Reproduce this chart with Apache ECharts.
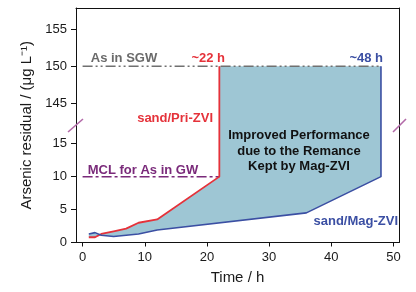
<!DOCTYPE html>
<html>
<head>
<meta charset="utf-8">
<script src="https://cdn.jsdelivr.net/npm/echarts@6/dist/echarts.min.js"></script>
<style>
  html, body { margin: 0; padding: 0; background: #fff; }
  #chart { width: 416px; height: 292px; }
</style>
</head>
<body>
<div id="chart"></div>
<script>
// data (time in h, arsenic in ug/L)
const priTime = [1, 2, 3, 5, 7, 9, 12, 22, 22];
const priValue = [0.8, 0.8, 1.3, 1.7, 2.1, 3.0, 3.5, 10, 150];
const magTime = [1, 2, 3, 5, 9, 12, 36, 48, 48];
const magValue = [1.3, 1.5, 1.1, 0.9, 1.3, 1.9, 4.5, 10, 150];
const sgwTime = [0, 48];
const sgwValue = [150, 150];
const mclTime = [0, 22];
const mclValue = [10, 10];
const xTicks = [0, 10, 20, 30, 40, 50];
const yTicks = [0, 5, 10, 15, 145, 150, 155];

// broken y axis: 0..15 kept as is, 145..155 shifted down and stretched a bit
const f = v => (v <= 16 ? v : 21.18 + (v - 145) * 1.114);
const yTickPos = yTicks.map(f);

const pairs = (xs, ys) => xs.map((x, i) => [x, f(ys[i])]);

const myChart = echarts.init(document.getElementById('chart'));

const font = 'Liberation Sans, Arial';
const tickFont = { fontFamily: font, fontSize: 13, color: '#1a1a1a' };
const xMin = -1.06, xMax = 50.9, yMax = 35.6;

// plain axis used only to close the box on top and right
const boxAxis = (pos, max, min) => ({
  type: 'value', position: pos, min: min, max: max,
  axisLine: { show: true, onZero: false, lineStyle: { color: '#111' } },
  axisTick: { show: false }, axisLabel: { show: false }, splitLine: { show: false }
});

const options = {
  animation: false,
  grid: { left: 76, right: 17, top: 8, bottom: 49.5 },
  xAxis: [
    {
      type: 'value',
      min: xMin,
      max: xMax,
      name: 'Time / h',
      nameLocation: 'middle',
      nameGap: 28,
      nameTextStyle: { fontFamily: font, fontSize: 15, color: '#1a1a1a' },
      axisLine: { onZero: false, lineStyle: { color: '#111', width: 1 } },
      axisTick: { show: true, customValues: xTicks, length: 4, lineStyle: { color: '#111' } },
      axisLabel: { customValues: xTicks, margin: 8, ...tickFont },
      splitLine: { show: false }
    },
    boxAxis('top', xMax, xMin)
  ],
  yAxis: [
    {
      type: 'value',
      min: 0,
      max: yMax,
      name: 'Arsenic residual / (μg L⁻¹)',
      nameLocation: 'middle',
      nameGap: 37,
      nameTextStyle: { fontFamily: font, fontSize: 15, color: '#1a1a1a' },
      axisLine: { show: true, onZero: false, lineStyle: { color: '#111', width: 1 } },
      axisTick: { show: true, customValues: yTickPos, length: 5, lineStyle: { color: '#111', width: 1 } },
      axisLabel: {
        customValues: yTickPos,
        margin: 9,
        ...tickFont,
        formatter: v => {
          const i = yTickPos.findIndex(p => Math.abs(p - v) < 0.01);
          return i >= 0 ? String(yTicks[i]) : '';
        }
      },
      splitLine: { show: false }
    },
    boxAxis('right', yMax, 0)
  ],
  series: [
    {
      // shaded region between the two curves
      type: 'custom',
      z: 1,
      silent: true,
      data: [0],
      renderItem: (params, api) => {
        const top = pairs(priTime, priValue).map(p => api.coord(p));
        const bottom = pairs(magTime, magValue).map(p => api.coord(p)).reverse();
        return {
          type: 'polygon',
          shape: { points: top.concat(bottom) },
          style: { fill: '#9ec6d4', stroke: null }
        };
      }
    },
    {
      name: 'As in SGW',
      type: 'line',
      z: 3,
      symbol: 'none',
      data: pairs(sgwTime, sgwValue),
      lineStyle: { color: '#707070', width: 1.5, type: [10, 3, 2, 3, 2, 3] }
    },
    {
      name: 'MCL for As in GW',
      type: 'line',
      z: 3,
      symbol: 'none',
      data: pairs(mclTime, mclValue),
      lineStyle: { color: '#7a2a7a', width: 1.5, type: [10, 3, 3, 3] }
    },
    {
      name: 'sand/Pri-ZVI',
      type: 'line',
      z: 4,
      symbol: 'none',
      data: pairs(priTime, priValue),
      lineStyle: { color: '#e5323a', width: 1.8 }
    },
    {
      name: 'sand/Mag-ZVI',
      type: 'line',
      z: 4,
      symbol: 'none',
      data: pairs(magTime, magValue),
      lineStyle: { color: '#3b4fa3', width: 1.6 }
    }
  ],
  graphic: [
    // axis break marks
    { type: 'line', shape: { x1: 68, y1: 132, x2: 83, y2: 119 }, style: { stroke: '#b36aa8', lineWidth: 1.6 }, z: 100 },
    { type: 'line', shape: { x1: 393, y1: 132, x2: 406, y2: 119 }, style: { stroke: '#b36aa8', lineWidth: 1.6 }, z: 100 },
    // annotations
    { type: 'text', x: 124, y: 58, style: { text: 'As in SGW', fill: '#6a6a6a', font: 'bold 13px ' + font, align: 'center', verticalAlign: 'middle' }, z: 10 },
    { type: 'text', x: 225, y: 58, style: { text: '~22 h', fill: '#e5323a', font: 'bold 13px ' + font, align: 'right', verticalAlign: 'middle' }, z: 10 },
    { type: 'text', x: 383, y: 58, style: { text: '~48 h', fill: '#3b4fa3', font: 'bold 13px ' + font, align: 'right', verticalAlign: 'middle' }, z: 10 },
    { type: 'text', x: 213, y: 118, style: { text: 'sand/Pri-ZVI', fill: '#e5323a', font: 'bold 13px ' + font, align: 'right', verticalAlign: 'middle' }, z: 10 },
    { type: 'text', x: 143, y: 170, style: { text: 'MCL for As in GW', fill: '#7a2a7a', font: 'bold 13px ' + font, align: 'center', verticalAlign: 'middle' }, z: 10 },
    { type: 'text', x: 299, y: 151, style: { text: 'Improved Performance\ndue to the Remance\nKept by Mag-ZVI', fill: '#111', font: 'bold 13px ' + font, lineHeight: 15.5, align: 'center', verticalAlign: 'middle' }, z: 10 },
    { type: 'text', x: 398, y: 221, style: { text: 'sand/Mag-ZVI', fill: '#3b4fa3', font: 'bold 13px ' + font, align: 'right', verticalAlign: 'middle' }, z: 10 }
  ]
};

myChart.setOption(options);
</script>
</body>
</html>
